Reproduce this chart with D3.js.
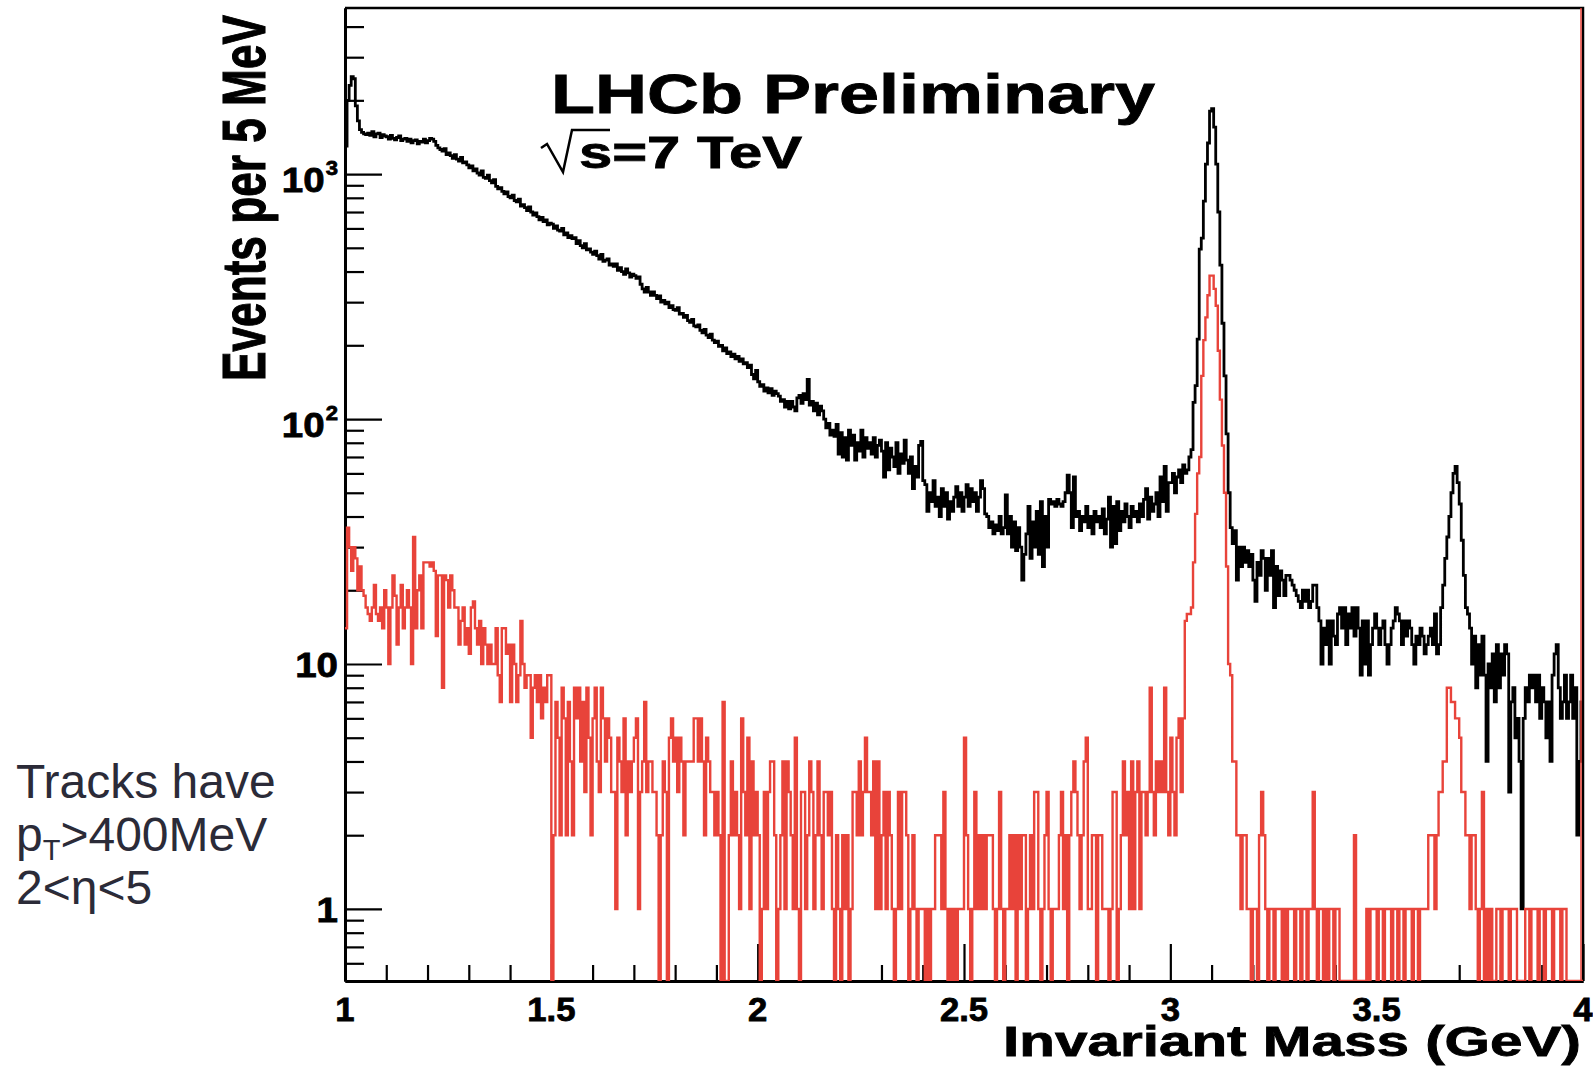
<!DOCTYPE html>
<html>
<head>
<meta charset="utf-8">
<script src="https://cdnjs.cloudflare.com/ajax/libs/d3/7.8.5/d3.min.js"></script>
<style>
  body { margin: 0; background: #fff; }
  svg { display: block; }
  .lbl { font-family: "Liberation Sans", Arial, sans-serif; font-weight: bold; fill: #000; stroke: #000; stroke-width: 0.8px; }
</style>
</head>
<body>
<div id="chart"></div>
<script>
var width = 1593;
var height = 1066;

// histogram binning: 600 bins of 5 MeV from 1 GeV
var massLow = 1.0;
var binWidth = 0.005;

// all pairs (black), one row = 10 bins
var blackCounts = [
  1300, 2000, 2300, 2500, 2450, 1900, 1650, 1520, 1480, 1460,
  1450, 1470, 1440, 1490, 1420, 1460, 1470, 1410, 1450, 1430,
  1420, 1390, 1440, 1400, 1380, 1410, 1430, 1370, 1390, 1400,
  1360, 1390, 1340, 1370, 1380, 1330, 1360, 1350, 1390, 1340,
  1370, 1400, 1390, 1360, 1310, 1280, 1260, 1240, 1270, 1200,
  1220, 1190, 1160, 1200, 1150, 1130, 1170, 1110, 1120, 1090,
  1060, 1080, 1030, 1050, 1010, 990, 1030, 970, 960, 990,
  940, 920, 950, 890, 870, 880, 850, 830, 845, 810,
  800, 820, 780, 770, 790, 740, 750, 730, 710, 735,
  700, 680, 695, 670, 650, 665, 640, 650, 620, 630,
  625, 600, 615, 590, 585, 600, 565, 575, 550, 560,
  545, 550, 520, 535, 510, 500, 520, 490, 495, 480,
  470, 485, 465, 450, 470, 440, 445, 450, 425, 430,
  420, 430, 405, 415, 400, 390, 410, 395, 380, 390,
  385, 375, 380, 355, 340, 330, 345, 330, 320, 330,
  320, 310, 318, 300, 305, 295, 300, 285, 290, 280,
  278, 285, 268, 270, 260, 265, 252, 248, 255, 240,
  238, 242, 230, 225, 232, 220, 215, 222, 210, 205,
  208, 198, 200, 190, 195, 185, 188, 180, 184, 176,
  180, 172, 176, 168, 170, 162, 166, 152, 146, 158,
  142, 136, 138, 130, 134, 128, 133, 125, 130, 127,
  124, 118, 120, 112, 118, 110, 118, 112, 108, 122,
  125, 116, 127, 120, 145, 114, 118, 108, 116, 104,
  113, 108, 100, 92, 96, 86, 90, 85, 95, 72,
  88, 70, 84, 68, 90, 78, 86, 68, 80, 74,
  90, 70, 84, 76, 80, 72, 84, 70, 78, 82,
  74, 58, 80, 62, 76, 70, 64, 80, 60, 72,
  66, 82, 68, 60, 70, 52, 64, 58, 78, 81,
  56, 54, 42, 50, 46, 56, 44, 48, 40, 52,
  44, 50, 39, 46, 42, 48, 53, 44, 50, 42,
  48, 54, 44, 52, 46, 50, 42, 48, 56, 52,
  41, 40, 36, 38, 34, 37, 35, 40, 34, 36,
  49, 34, 40, 30, 38, 29, 36, 30, 22, 28,
  34, 44, 27, 38, 30, 42, 28, 46, 25, 40,
  30, 47, 45, 46, 44, 47, 45, 44, 46, 50,
  59, 50, 36, 58, 40, 42, 35, 40, 38, 44,
  36, 40, 34, 42, 38, 40, 36, 43, 34, 39,
  48, 30, 44, 31, 46, 35, 42, 38, 45, 40,
  36, 44, 40, 42, 38, 45, 40, 47, 52, 39,
  48, 42, 45, 50, 40, 58, 46, 64, 42, 55,
  55, 60, 50, 58, 62, 55, 65, 60, 62, 70,
  75, 117, 137, 212, 494, 548, 776, 1099, 1339, 1808,
  1850, 1555, 1099, 700, 425, 246, 150, 87, 50, 36,
  31, 35, 22, 30, 25, 30, 26, 29, 25, 28,
  22, 18, 26, 23, 29, 27, 20, 27, 23, 29,
  17, 25, 19, 24, 22, 19, 23, 23, 22, 21,
  20, 19, 18, 17, 20, 18, 20, 17, 18, 21,
  21, 17, 15, 10, 14, 12, 15, 10, 15, 13,
  12, 16, 17, 14, 17, 12, 16, 14, 17, 13,
  17, 14, 9, 15, 10, 15, 9, 12, 14, 16,
  14, 12, 14, 15, 12, 10, 12, 14, 15, 17,
  16, 15, 12, 15, 13, 15, 14, 12, 10, 13,
  12, 14, 13, 11, 12, 13, 14, 12, 16, 11,
  12, 17, 21, 27, 33, 40, 50, 60, 64, 55,
  45, 32, 23, 17, 16, 14, 10, 13, 8, 12,
  9, 13, 9, 4, 10, 8, 11, 7, 12, 8,
  11, 9, 12, 11, 3, 7, 8, 5, 6, 4,
  1, 6, 8, 7, 9, 8, 9, 7, 9, 6,
  8, 7, 5, 7, 4, 9, 11, 12, 8, 6,
  7, 9, 6, 7, 9, 6, 8, 2, 4, 7
];

// selected pairs (red)
var redCounts = [
  14, 36, 30, 24, 30, 27, 20, 25, 20, 19,
  17, 16, 15, 17, 21, 16, 15, 17, 14, 20,
  17, 10, 17, 23, 19, 12, 17, 21, 14, 17,
  20, 17, 10, 33, 14, 20, 23, 14, 26, 26,
  26, 25, 26, 24, 13, 23, 23, 8, 23, 22,
  17, 23, 20, 17, 17, 12, 15, 17, 12, 14,
  11, 17, 18, 14, 12, 15, 10, 14, 12, 10,
  12, 10, 10, 14, 9, 7, 14, 14, 11, 12,
  7, 12, 10, 7, 9, 15, 10, 8, 9, 9,
  5, 8, 9, 7, 9, 6, 8, 7, 9, 9,
  0, 2, 7, 5, 2, 8, 6, 2, 7, 4,
  2, 8, 6, 8, 4, 7, 3, 8, 5, 2,
  6, 8, 4, 3, 8, 6, 4, 6, 5, 3,
  3, 1, 5, 4, 3, 6, 2, 4, 3, 4,
  5, 6, 1, 3, 4, 7, 3, 4, 4, 3,
  3, 2, 0, 2, 4, 3, 0, 5, 6, 4,
  5, 3, 5, 4, 2, 4, 4, 4, 4, 6,
  6, 4, 6, 4, 2, 5, 4, 3, 3, 2,
  3, 2, 0, 7, 0, 0, 2, 4, 2, 3,
  2, 1, 6, 3, 2, 5, 1, 4, 2, 3,
  2, 0, 1, 3, 1, 3, 4, 4, 2, 0,
  1, 2, 4, 1, 4, 3, 2, 1, 5, 1,
  0, 3, 3, 1, 2, 4, 3, 1, 2, 4,
  2, 1, 3, 3, 2, 3, 1, 0, 2, 1,
  0, 2, 1, 2, 0, 1, 3, 3, 2, 4,
  2, 3, 5, 3, 3, 2, 4, 1, 4, 1,
  2, 3, 1, 3, 2, 1, 0, 1, 3, 1,
  3, 3, 2, 0, 1, 2, 1, 0, 1, 1,
  1, 0, 1, 0, 1, 1, 2, 2, 2, 1,
  3, 1, 0, 1, 0, 1, 0, 1, 1, 1,
  5, 2, 1, 0, 1, 3, 1, 2, 1, 2,
  1, 2, 2, 2, 1, 0, 1, 3, 1, 0,
  1, 1, 2, 1, 2, 0, 2, 1, 2, 2,
  0, 1, 2, 1, 3, 3, 1, 0, 1, 2,
  3, 1, 0, 1, 1, 1, 2, 3, 1, 2,
  0, 2, 3, 4, 3, 2, 1, 2, 4, 5,
  1, 1, 2, 2, 0, 2, 2, 1, 1, 1,
  0, 1, 3, 3, 0, 1, 2, 4, 2, 3,
  1, 4, 1, 3, 4, 1, 3, 3, 2, 3,
  8, 3, 2, 4, 3, 4, 3, 8, 3, 2,
  5, 3, 2, 5, 6, 3, 6, 15, 16, 16,
  17, 26, 41, 60, 70, 150, 210, 260, 320, 385,
  385, 340, 290, 190, 120, 78, 50, 25, 10, 9,
  4, 4, 2, 2, 1, 2, 2, 1, 1, 0,
  1, 1, 0, 2, 3, 2, 1, 0, 1, 1,
  0, 1, 1, 1, 0, 1, 0, 1, 1, 1,
  0, 1, 1, 0, 1, 1, 0, 1, 1, 3,
  1, 0, 1, 1, 0, 1, 0, 1, 1, 0,
  1, 1, 0, 0, 0, 0, 0, 0, 0, 2,
  0, 0, 0, 0, 0, 1, 0, 1, 1, 1,
  0, 1, 1, 0, 1, 1, 1, 0, 1, 1,
  0, 1, 1, 0, 1, 1, 1, 0, 1, 1,
  0, 1, 1, 1, 1, 2, 2, 2, 1, 2,
  3, 3, 4, 4, 8, 8, 7, 7, 6, 6,
  5, 3, 3, 2, 2, 1, 2, 2, 1, 0,
  1, 3, 0, 1, 0, 1, 0, 0, 1, 1,
  0, 1, 1, 1, 0, 1, 1, 1, 0, 0,
  0, 0, 1, 1, 0, 1, 1, 1, 0, 1,
  1, 0, 1, 1, 1, 0, 1, 1, 1, 0,
  1, 1, 0, 0, 0, 0, 0, 0, 0, 0
];

var xMajorTicks = [1, 1.5, 2, 2.5, 3, 3.5, 4];
var xTickLabels = ["1", "1.5", "2", "2.5", "3", "3.5", "4"];
var yMajorTicks = [1, 10, 100, 1000];
var yTickLabels = [["1", ""], ["10", ""], ["10", "2"], ["10", "3"]];
var notes = ["Tracks have", "p|T|>400MeV", "2<\u03b7<5"];

var svg = d3.select("#chart")
            .append("svg")
            .attr("width", width)
            .attr("height", height);

var x = d3.scaleLinear()
    .domain([1, 4])
    .range([345, 1583]);

var y = d3.scaleLog()
    .domain([0.508, 4764])
    .range([981, 8]);

var frameL = x.range()[0], frameR = x.range()[1];
var frameT = y.range()[1], frameB = y.range()[0];

// minor ticks
var xMinor = d3.range(11, 40).map(function(d) { return d / 10; })
    .filter(function(d) { return Math.round(d * 10) % 5 != 0; });
var yMinor = [];
[0.1, 1, 10, 100, 1000].forEach(function(dec) {
    for (var k = 2; k <= 9; k++) {
        var v = dec * k;
        if (v > y.domain()[0] && v < y.domain()[1]) yMinor.push(v);
    }
});

// axes: ROOT style, ticks pointing into the frame
var gy = svg.append("g").attr("transform", "translate(" + frameL + ",0)");
gy.call(d3.axisRight(y).tickValues(yMajorTicks).tickSize(37).tickSizeOuter(0).tickFormat(""));
gy.append("g").call(d3.axisRight(y).tickValues(yMinor).tickSize(19).tickSizeOuter(0).tickFormat(""));
var gx = svg.append("g").attr("transform", "translate(0," + frameB + ")");
gx.call(d3.axisTop(x).tickValues(xMajorTicks).tickSize(37).tickSizeOuter(0).tickFormat(""));
gx.append("g").call(d3.axisTop(x).tickValues(xMinor).tickSize(16).tickSizeOuter(0).tickFormat(""));
svg.selectAll(".tick line").attr("stroke", "#000").attr("stroke-width", 2.2);
svg.selectAll(".domain").attr("stroke", "#000").attr("stroke-width", 3);

// frame top and right
svg.append("path")
    .attr("d", "M" + frameL + "," + frameT + "H" + frameR + "V" + frameB)
    .attr("fill", "none")
    .attr("stroke", "#000")
    .attr("stroke-width", 2.5);

// histograms
svg.append("clipPath").attr("id", "frameClip")
    .append("rect")
    .attr("x", frameL).attr("y", frameT)
    .attr("width", frameR - frameL).attr("height", frameB - frameT);

function stepPoints(counts) {
    var pts = [];
    counts.forEach(function(c, i) {
        var lo = massLow + i * binWidth;
        pts.push([lo, c], [lo + binWidth, c]);
    });
    return pts;
}

var histLine = d3.line()
    .x(function(d) { return x(d[0]); })
    .y(function(d) { return y(Math.max(d[1], y.domain()[0])); });

var hg = svg.append("g").attr("clip-path", "url(#frameClip)");
hg.append("path")
    .attr("d", histLine(stepPoints(blackCounts)))
    .attr("fill", "none")
    .attr("stroke", "#000")
    .attr("stroke-width", 2.8)
    .attr("stroke-linejoin", "miter");
hg.append("path")
    .attr("d", histLine(stepPoints(redCounts)))
    .attr("fill", "none")
    .attr("stroke", "#e8433a")
    .attr("stroke-width", 2.4)
    .attr("stroke-linejoin", "miter");
// thin red edge along right side of frame
svg.append("line")
    .attr("x1", frameR - 2).attr("x2", frameR - 2)
    .attr("y1", frameT).attr("y2", frameB)
    .attr("stroke", "#e8433a").attr("stroke-width", 1.5);

// y tick labels
yMajorTicks.forEach(function(v, i) {
    var lab = yTickLabels[i];
    var t = svg.append("text")
        .attr("class", "lbl")
        .attr("text-anchor", "end")
        .attr("transform", "translate(338," + (y(v) + (lab[1] ? 18 : 13)) + ") scale(1.1,1)")
        .style("font-size", "35px");
    t.append("tspan").text(lab[0]);
    if (lab[1]) {
        t.append("tspan").attr("dx", 1).attr("dy", -17).style("font-size", "20px").text(lab[1]);
    }
});

// x tick labels
xMajorTicks.forEach(function(v, i) {
    svg.append("text")
        .attr("class", "lbl")
        .attr("text-anchor", "middle")
        .attr("transform", "translate(" + x(v) + ",1021) scale(1.05,1)")
        .style("font-size", "33px")
        .text(xTickLabels[i]);
});

// axis titles
svg.append("text")
    .attr("class", "lbl")
    .attr("x", 1003).attr("y", 1056)
    .attr("textLength", 578).attr("lengthAdjust", "spacingAndGlyphs")
    .style("font-size", "43px")
    .text("Invariant Mass (GeV)");

svg.append("text")
    .attr("class", "lbl")
    .attr("transform", "translate(265,381) scale(1.37,1) rotate(-90)")
    .attr("textLength", 366).attr("lengthAdjust", "spacingAndGlyphs")
    .style("font-size", "44px")
    .text("Events per 5 MeV");

// experiment labels
svg.append("text")
    .attr("class", "lbl")
    .attr("x", 551).attr("y", 113)
    .attr("textLength", 604).attr("lengthAdjust", "spacingAndGlyphs")
    .style("font-size", "56px")
    .text("LHCb Preliminary");

svg.append("path")
    .attr("d", "M541,148 L547,144 L563,172 L572,130 L610,130")
    .attr("fill", "none")
    .attr("stroke", "#000")
    .attr("stroke-width", 2.5)
    .attr("stroke-linejoin", "miter");
svg.append("text")
    .attr("class", "lbl")
    .attr("x", 579).attr("y", 168)
    .attr("textLength", 223).attr("lengthAdjust", "spacingAndGlyphs")
    .style("font-size", "45px")
    .text("s=7 TeV");

// side notes
var nt = svg.append("g")
    .style("font-family", "'Liberation Sans', Arial, sans-serif")
    .style("font-size", "48px")
    .style("fill", "#2b2b38");
notes.forEach(function(s, i) {
    var t = nt.append("text").attr("x", 16).attr("y", 798 + i * 53);
    var parts = s.split("|");
    if (parts.length == 3) {
        t.append("tspan").text(parts[0]);
        t.append("tspan").attr("dy", 9).style("font-size", "29px").text(parts[1]);
        t.append("tspan").attr("dy", -9).text(parts[2]);
    } else {
        t.text(s);
    }
});
</script>
</body>
</html>
